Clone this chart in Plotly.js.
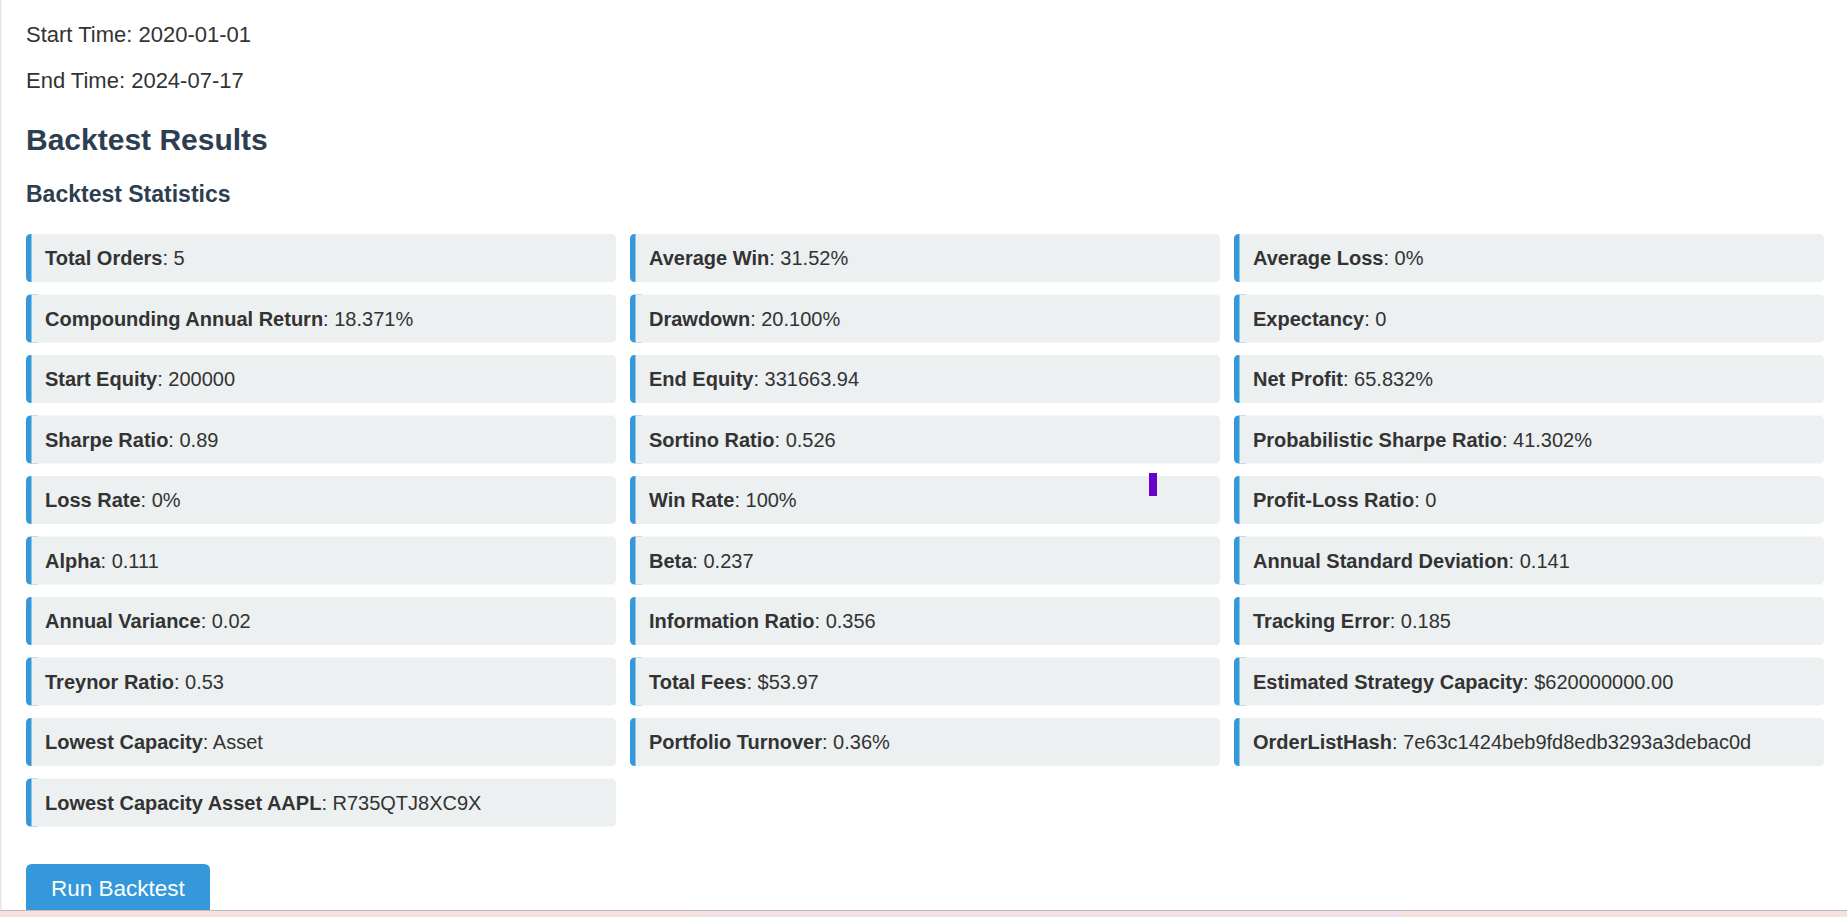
<!DOCTYPE html>
<html>
<head>
<meta charset="utf-8">
<script src="https://cdn.plot.ly/plotly-3.0.1.min.js"></script>
<style>
  html, body { margin: 0; padding: 0; background: #fff; overflow: hidden; }
  #page { width: 1847px; height: 917px; }
</style>
</head>
<body>
<div id="page"></div>
<script>
// header lines
let startTime = '2020-01-01';
let endTime = '2024-07-17';

// statistics, row by row (3 per row)
let statLabels = [
    'Total Orders', 'Average Win', 'Average Loss',
    'Compounding Annual Return', 'Drawdown', 'Expectancy',
    'Start Equity', 'End Equity', 'Net Profit',
    'Sharpe Ratio', 'Sortino Ratio', 'Probabilistic Sharpe Ratio',
    'Loss Rate', 'Win Rate', 'Profit-Loss Ratio',
    'Alpha', 'Beta', 'Annual Standard Deviation',
    'Annual Variance', 'Information Ratio', 'Tracking Error',
    'Treynor Ratio', 'Total Fees', 'Estimated Strategy Capacity',
    'Lowest Capacity', 'Portfolio Turnover', 'OrderListHash',
    'Lowest Capacity Asset AAPL'
];
let statValues = [
    '5', '31.52%', '0%',
    '18.371%', '20.100%', '0',
    '200000', '331663.94', '65.832%',
    '0.89', '0.526', '41.302%',
    '0%', '100%', '0',
    '0.111', '0.237', '0.141',
    '0.02', '0.356', '0.185',
    '0.53', '$53.97', '$620000000.00',
    'Asset', '0.36%', '7e63c1424beb9fd8edb3293a3debac0d',
    'R735QTJ8XC9X'
];

const W = 1847, H = 917;
const font = 'Arial, "Liberation Sans", Helvetica, sans-serif';
const blue = '#3498db';
const cardBg = '#ecf0f1';
const textColor = '#333333';
const headColor = '#2c3e50';

// rounded rect path in data (pixel) coords
function roundRect(x0, y0, x1, y1, rTL, rTR, rBR, rBL) {
    return 'M' + (x0 + rTL) + ',' + y0 +
        ' L' + (x1 - rTR) + ',' + y0 +
        ' Q' + x1 + ',' + y0 + ' ' + x1 + ',' + (y0 + rTR) +
        ' L' + x1 + ',' + (y1 - rBR) +
        ' Q' + x1 + ',' + y1 + ' ' + (x1 - rBR) + ',' + y1 +
        ' L' + (x0 + rBL) + ',' + y1 +
        ' Q' + x0 + ',' + y1 + ' ' + x0 + ',' + (y1 - rBL) +
        ' L' + x0 + ',' + (y0 + rTL) +
        ' Q' + x0 + ',' + y0 + ' ' + (x0 + rTL) + ',' + y0 + ' Z';
}

let shapes = [];
let annotations = [];

// left page edge
shapes.push({type: 'rect', x0: 0, x1: 1.5, y0: 0, y1: H, fillcolor: '#e6e6e6', line: {width: 0}, layer: 'below'});

function addText(x, y, text, size, color, anchor) {
    annotations.push({
        x: x, y: y, text: text, showarrow: false,
        xanchor: anchor || 'left', yanchor: 'middle',
        font: {family: font, size: size, color: color}
    });
}

addText(24, 34, 'Start Time: ' + startTime, 22, textColor);
addText(24, 80, 'End Time: ' + endTime, 22, textColor);
addText(24, 139, '<b>Backtest Results</b>', 30, headColor);
addText(24, 194, '<b>Backtest Statistics</b>', 23, headColor);

// cards
let colLeft = 26, colPitch = 604, cardW = 590;
let rowTop = 234, rowPitch = 60.5, cardH = 48;

for (let i = 0; i < statLabels.length; i++) {
    let r = Math.floor(i / 3), c = i % 3;
    let x0 = colLeft + c * colPitch, x1 = x0 + cardW;
    let y0 = rowTop + r * rowPitch, y1 = y0 + cardH;
    // blue left border, then the grey body over it
    shapes.push({type: 'path', path: roundRect(x0, y0, x0 + 12, y1, 5, 0, 0, 5),
        fillcolor: blue, line: {width: 0}, layer: 'below'});
    shapes.push({type: 'path', path: roundRect(x0 + 5.5, y0, x1, y1, 0, 5, 5, 0),
        fillcolor: cardBg, line: {width: 0}, layer: 'below'});
    addText(x0 + 17, (y0 + y1) / 2, '<b>' + statLabels[i] + '</b>: ' + statValues[i], 20, textColor);
}

// button
shapes.push({type: 'path', path: roundRect(26, 864, 210, 930, 6, 6, 0, 0),
    fillcolor: blue, line: {width: 0}, layer: 'below'});
addText(118, 888, 'Run Backtest', 22.5, '#ffffff', 'center');

// small purple mark
shapes.push({type: 'rect', x0: 1149, x1: 1157, y0: 473, y1: 496, fillcolor: '#6a00cc', line: {width: 0}});

// bottom strip
shapes.push({type: 'rect', x0: 0, x1: W, y0: 910, y1: H, fillcolor: '#f4e2df', line: {width: 0}});
shapes.push({type: 'rect', x0: 700, x1: 1400, y0: 911, y1: H, fillcolor: '#f2e1ea', line: {width: 0}});
shapes.push({type: 'line', x0: 0, x1: W, y0: 910.5, y1: 910.5, line: {color: '#c4b9b6', width: 1}});

let layout = {
    width: W, height: H,
    margin: {l: 0, r: 0, t: 0, b: 0},
    paper_bgcolor: '#ffffff', plot_bgcolor: '#ffffff',
    xaxis: {range: [0, W], visible: false, fixedrange: true},
    yaxis: {range: [H, 0], visible: false, fixedrange: true},
    showlegend: false,
    shapes: shapes,
    annotations: annotations
};

Plotly.newPlot('page', [], layout, {displayModeBar: false, staticPlot: true});
</script>
</body>
</html>
